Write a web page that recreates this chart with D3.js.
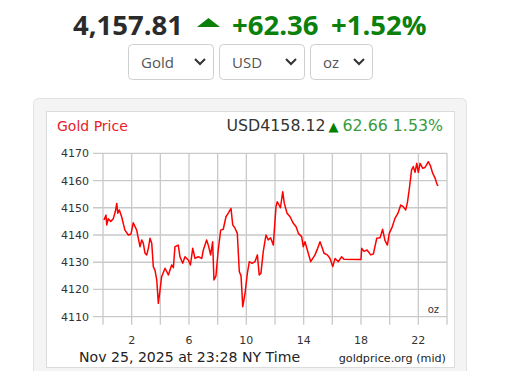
<!DOCTYPE html>
<html lang="en">
<head>
  <meta charset="utf-8">
  <title>Gold Price</title>
  <script src="https://d3js.org/d3.v7.min.js"></script>
  <style>
    body { margin: 0; background: #fff; }
  </style>
</head>
<body>
<script>
  // spot quote shown above the chart
  var spotPrice = "4,157.81";
  var spotChange = "+62.36";
  var spotPct = "+1.52%";
  var selectors = ["Gold", "USD", "oz"];

  // chart header
  var chartTitle = "Gold Price";
  var chartPrice = "USD4158.12";
  var chartChange = "62.66 1.53%";

  // intraday series (hour of day, NY time)
  var hours = [0.07, 0.21, 0.26, 0.37, 0.54, 0.72, 0.86, 0.96, 1.03, 1.14, 1.30, 1.53, 1.77, 1.95,
    2.11, 2.35, 2.58, 2.70, 2.81, 2.93, 3.05, 3.16, 3.28, 3.40, 3.51, 3.63, 3.75, 3.86, 3.98,
    4.09, 4.33, 4.56, 4.79, 4.91, 5.02, 5.25, 5.37, 5.56, 5.72, 5.95, 6.10, 6.26, 6.42, 6.65,
    6.89, 7.00, 7.23, 7.36, 7.51, 7.65, 7.74, 7.88, 8.04, 8.21, 8.39, 8.58, 8.74, 8.93, 9.05,
    9.21, 9.37, 9.51, 9.63, 9.75, 9.91, 10.07, 10.21, 10.40, 10.60, 10.77, 10.90, 11.02, 11.18,
    11.37, 11.53, 11.69, 11.88, 12.07, 12.16, 12.38, 12.54, 12.65, 12.84, 13.05, 13.28, 13.47,
    13.63, 13.86, 13.97, 14.09, 14.32, 14.49, 14.79, 14.97, 15.14, 15.28, 15.42, 15.65, 15.84,
    16.03, 16.19, 16.42, 16.65, 16.81, 17.93, 18.00, 18.05, 18.21, 18.42, 18.68, 18.86, 19.10,
    19.33, 19.51, 19.67, 19.84, 19.97, 20.18, 20.37, 20.58, 20.77, 20.93, 21.12, 21.24, 21.36,
    21.53, 21.65, 21.77, 21.89, 22.00, 22.12, 22.31, 22.47, 22.70, 22.84, 23.00, 23.16, 23.32, 23.39];
  var prices = [4145.5, 4147.3, 4143.7, 4146, 4145, 4146, 4148.6, 4151.6, 4148, 4149.2, 4146.7, 4141.8, 4140, 4140.3,
    4144.5, 4141.8, 4135.7, 4138.2, 4137, 4133.3, 4132.7, 4135, 4138.8, 4137, 4128.4, 4127, 4123.5, 4114.9, 4119.8,
    4124.7, 4127.8, 4125.3, 4129, 4128, 4135.7, 4136.3, 4132, 4129.6, 4132, 4130.8, 4129, 4135.1, 4131.4, 4132,
    4131.4, 4134.5, 4138.2, 4136, 4132.7, 4137.5, 4123.5, 4125, 4134.5, 4141.8, 4142.1, 4146.7, 4148, 4149.8, 4143.7,
    4142.5, 4140.6, 4126.5, 4125, 4113.7, 4118.6, 4125.9, 4130.2, 4129.6, 4130.2, 4132.7, 4125.3, 4126, 4133.9,
    4140, 4138.2, 4139, 4136.3, 4150.4, 4152.2, 4150, 4155.9, 4151.6, 4148, 4146.7, 4144.3, 4143,
    4140.6, 4139.4, 4135.7, 4137.5, 4133.3, 4130.2, 4132.7, 4135, 4137.5, 4135.5, 4133.3, 4132.7, 4131.4,
    4128.4, 4131.4, 4130.2, 4132, 4131.1, 4131, 4131, 4135.1, 4134, 4134.5, 4132.7, 4133, 4138.8,
    4139, 4142.1, 4138, 4136.3, 4140.6, 4143, 4146.1, 4148, 4151, 4150.5, 4149.2, 4152, 4156.5,
    4163.9, 4165.1, 4163, 4166.3, 4163, 4166.3, 4164.5, 4164.8, 4166.9, 4165.5, 4162.7, 4161, 4158.4, 4158.1];

  var yTicks = [4110, 4120, 4130, 4140, 4150, 4160, 4170];
  var xGrid = [0, 2, 4, 6, 8, 10, 12, 14, 16, 18, 20, 22, 24];
  var xLabels = [2, 6, 10, 14, 18, 22];
  var footDate = "Nov 25, 2025 at 23:28 NY Time";
  var footSource = "goldprice.org (mid)";

  var w = 513, h = 371;
  var green = "#0b800b";

  var svg = d3.select("body").append("svg")
    .attr("width", w)
    .attr("height", h);

  // ---- quote line on top
  var big = svg.append("g")
    .style("font-family", "'Open Sans', sans-serif")
    .style("font-weight", "bold")
    .style("font-size", "27.5px");
  big.append("text").attr("x", 73).attr("y", 35).attr("fill", "#2b2b2b").text(spotPrice);
  big.append("path")
    .attr("d", "M197,27 L208.5,18 L220,27 Z")
    .attr("fill", green);
  big.append("text").attr("x", 232).attr("y", 35).attr("fill", green).text(spotChange);
  big.append("text").attr("x", 331).attr("y", 35).attr("fill", green).text(spotPct);

  // ---- the three select boxes
  var boxX = [128, 219, 310];
  var boxW = [85, 85, 62];
  selectors.forEach(function(s, i) {
    var g = svg.append("g").attr("transform", "translate(" + boxX[i] + ",44)");
    g.append("rect")
      .attr("x", 0.5).attr("y", 0.5)
      .attr("width", boxW[i]).attr("height", 35)
      .attr("rx", 4)
      .attr("fill", "#fff")
      .attr("stroke", "#cfcfcf");
    g.append("text")
      .attr("x", 13).attr("y", 23.5)
      .style("font-family", "'Open Sans', sans-serif")
      .style("font-size", "15px")
      .attr("fill", "#555")
      .text(s);
    var cx = boxW[i] - 13;
    g.append("path")
      .attr("d", "M" + (cx - 5) + ",15 L" + cx + ",20 L" + (cx + 5) + ",15")
      .attr("fill", "none")
      .attr("stroke", "#333")
      .attr("stroke-width", 2);
  });

  // ---- panel
  svg.append("rect")
    .attr("x", 33.5).attr("y", 98.5)
    .attr("width", 433).attr("height", 290)
    .attr("rx", 5)
    .attr("fill", "#f4f4f4")
    .attr("stroke", "#e2e2e2");
  svg.append("rect")
    .attr("x", 46.5).attr("y", 111.5)
    .attr("width", 408).attr("height", 256)
    .attr("fill", "#fff")
    .attr("stroke", "#dcdcdc");

  var font = "'DejaVu Sans', Verdana, sans-serif";

  svg.append("text")
    .attr("x", 57).attr("y", 131)
    .style("font-family", font).style("font-size", "14px")
    .attr("fill", "#e8202a")
    .text(chartTitle);

  var hdr = svg.append("text")
    .attr("x", 443).attr("y", 131)
    .attr("text-anchor", "end")
    .style("font-family", font).style("font-size", "15.8px");
  hdr.append("tspan").attr("fill", "#333").text(chartPrice);
  hdr.append("tspan").attr("fill", "#008000").attr("font-size", "13px").attr("dx", 3).text("\u25B2");
  hdr.append("tspan").attr("fill", "#3a9a3a").attr("dx", 4).text(chartChange);

  // ---- scales
  var x = d3.scaleLinear().domain([0, 24]).range([103, 447]);
  var y = d3.scaleLinear().domain([4110, 4170]).range([316.7, 153.3]);

  var grid = svg.append("g")
    .attr("stroke", "#c9c9c9")
    .attr("stroke-width", 1.3);

  grid.selectAll(".hg")
    .data(yTicks)
    .enter().append("line")
    .attr("x1", 93).attr("x2", x(24))
    .attr("y1", function(d) { return y(d); })
    .attr("y2", function(d) { return y(d); });

  grid.selectAll(".vg")
    .data(xGrid)
    .enter().append("line")
    .attr("x1", function(d) { return x(d); })
    .attr("x2", function(d) { return x(d); })
    .attr("y1", y(4170))
    .attr("y2", y(4110) + 8);

  svg.selectAll(".ylab")
    .data(yTicks)
    .enter().append("text")
    .attr("x", 89)
    .attr("y", function(d) { return y(d) + 4; })
    .attr("text-anchor", "end")
    .style("font-family", font).style("font-size", "11px")
    .attr("fill", "#333")
    .text(function(d) { return d; });

  svg.selectAll(".xlab")
    .data(xLabels)
    .enter().append("text")
    .attr("x", function(d) { return x(d); })
    .attr("y", 344)
    .attr("text-anchor", "middle")
    .style("font-family", font).style("font-size", "11px")
    .attr("fill", "#333")
    .text(function(d) { return d; });

  svg.append("text")
    .attr("x", 439).attr("y", 313)
    .attr("text-anchor", "end")
    .style("font-family", font).style("font-size", "10px")
    .attr("fill", "#333")
    .text("oz");

  // ---- price line
  var pts = hours.map(function(d, i) { return [d, prices[i]]; });
  var line = d3.line()
    .x(function(d) { return x(d[0]); })
    .y(function(d) { return y(d[1]); });

  svg.append("path")
    .datum(pts)
    .attr("d", line)
    .attr("fill", "none")
    .attr("stroke", "#ff0000")
    .attr("stroke-width", 1.5)
    .attr("stroke-linejoin", "round");

  // ---- footer
  svg.append("text")
    .attr("x", 79).attr("y", 362)
    .style("font-family", font).style("font-size", "14.1px")
    .attr("fill", "#222")
    .text(footDate);

  svg.append("text")
    .attr("x", 446).attr("y", 362)
    .attr("text-anchor", "end")
    .style("font-family", font).style("font-size", "11.2px")
    .attr("fill", "#222")
    .text(footSource);
</script>
</body>
</html>
